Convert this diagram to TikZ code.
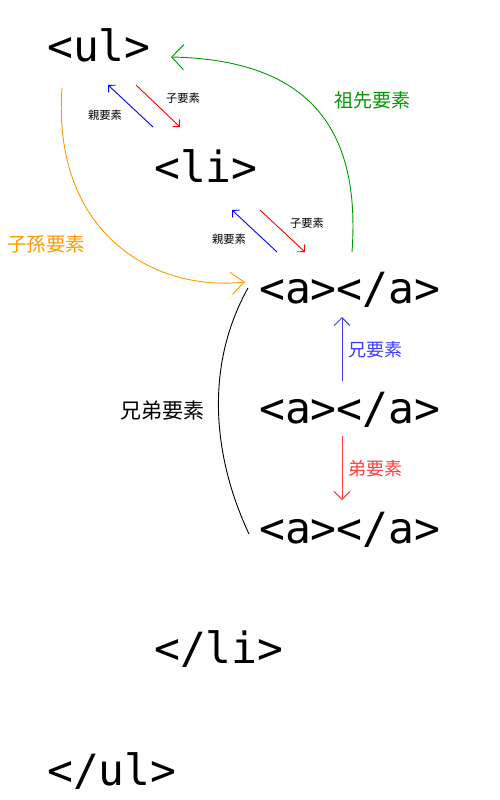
\documentclass[tikz,border=0pt]{standalone}
\usepackage{fontspec}
\setmonofont{DejaVu Sans Mono}
\newfontfamily\jp{Noto Sans CJK JP}
\usetikzlibrary{arrows.meta}
\definecolor{orng}{RGB}{255,153,0}
\definecolor{grn}{RGB}{0,153,0}
\definecolor{lblue}{RGB}{60,60,255}
\definecolor{lred}{RGB}{255,60,60}
\begin{document}
\begin{tikzpicture}[x=1pt,y=-1pt,
  tag/.style={font=\ttfamily\fontsize{43}{43}\selectfont, inner sep=0, anchor=base west},
  small/.style={font=\jp\fontsize{11.3}{11.3}\selectfont, inner sep=0},
  lab/.style={font=\jp\fontsize{18}{18}\selectfont, inner sep=0},
  thin/.style={line width=0.9pt},
  smalltip/.style={-{Straight Barb[length=5pt,width=10pt]}},
]
\useasboundingbox (0,0) rectangle (500,800);
% tags
\node[tag] (ul) at (47,62) {<ul>};
\node[tag] (li) at (154,182) {<li>};
\node[tag] (a1) at (259,303) {<a></a>};
\node[tag] (a2) at (259,423) {<a></a>};
\node[tag] (a3) at (259,543) {<a></a>};
\node[tag] (eli) at (154,663) {</li>};
\node[tag] (eul) at (47,785) {</ul>};
% ul - li arrows
\coordinate (b1s) at (153,127); \coordinate (b1e) at (108,85);
\coordinate (r1s) at (136,85); \coordinate (r1e) at (180,127);
\draw[thin,blue,smalltip] (b1s) -- (b1e);
\draw[thin,red,smalltip] (r1s) -- (r1e);
\node[small] (p1) at (105,115) {親要素};
\node[small] (c1) at (183,98) {子要素};
% li - a arrows
\coordinate (b2s) at (277,252); \coordinate (b2e) at (232,210);
\coordinate (r2s) at (260,210); \coordinate (r2e) at (305,252);
\draw[thin,blue,smalltip] (b2s) -- (b2e);
\draw[thin,red,smalltip] (r2s) -- (r2e);
\node[small] (p2) at (229,239) {親要素};
\node[small] (c2) at (307,223) {子要素};
% descendant (orange)
\coordinate (os) at (62,88); \coordinate (oe) at (245,282);
\draw[thin,orng,-{Straight Barb[length=13pt,width=22pt]}] (os) .. controls (52,230) and (150,292) .. (oe);
\node[lab,text=orng,font=\jp\fontsize{19.5}{19.5}\selectfont] (desc) at (46,244) {子孫要素};
% ancestor (green)
\coordinate (gs) at (352,252); \coordinate (ge) at (171,57);
\draw[thin,grn,-{Straight Barb[length=12pt,width=25pt]}] (gs) .. controls (360,140) and (320,60) .. (ge);
\node[lab,text=grn,font=\jp\fontsize{19}{19}\selectfont] (anc) at (372,100) {祖先要素};
% older sibling (blue)
\coordinate (bvs) at (342,381); \coordinate (bve) at (342,317);
\draw[thin,lblue,-{Straight Barb[length=8pt,width=16pt]}] (bvs) -- (bve);
\node[lab,text=lblue,anchor=west] (older) at (348,350) {兄要素};
% younger sibling (red)
\coordinate (rvs) at (342,436); \coordinate (rve) at (342,500);
\draw[thin,lred,-{Straight Barb[length=8pt,width=16pt]}] (rvs) -- (rve);
\node[lab,text=lred,anchor=west] (younger) at (348,469) {弟要素};
% siblings (black)
\coordinate (ks) at (248,288); \coordinate (ke) at (249,534);
\draw[thin,black] (ks) .. controls (205,365) and (212,455) .. (ke);
\node[lab,font=\jp\fontsize{21}{21}\selectfont] (sib) at (162,411) {兄弟要素};
\end{tikzpicture}
\end{document}
